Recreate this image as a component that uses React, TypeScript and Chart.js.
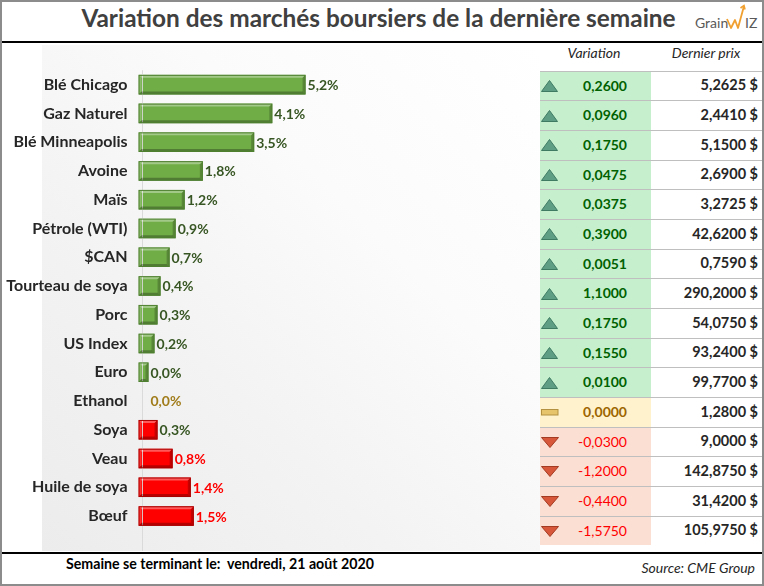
import React, { useEffect, useRef } from "react";
import { Chart, registerables } from "chart.js";

Chart.register(...registerables);

// ---------- data ----------
const categories = [
  "Blé Chicago",
  "Gaz Naturel",
  "Blé Minneapolis",
  "Avoine",
  "Maïs",
  "Pétrole (WTI)",
  "$CAN",
  "Tourteau de soya",
  "Porc",
  "US Index",
  "Euro",
  "Ethanol",
  "Soya",
  "Veau",
  "Huile de soya",
  "Bœuf",
];
const weeklyChangePct: (number | null)[] = [
  5.2, 4.1, 3.5, 1.8, 1.2, 0.9, 0.7, 0.4, 0.3, 0.2, 0.0, null, 0.3, 0.8, 1.4, 1.5,
];
const barTone = [
  "up", "up", "up", "up", "up", "up", "up", "up", "up", "up", "up",
  "flat", "down", "down", "down", "down",
];
const pctLabelTone = [
  "up", "up", "up", "up", "up", "up", "up", "up", "up", "up", "up",
  "flat", "up", "down", "down", "down",
];
const priceChange = [
  0.26, 0.096, 0.175, 0.0475, 0.0375, 0.39, 0.0051, 1.1, 0.175, 0.155, 0.01, 0,
  -0.03, -1.2, -0.44, -1.575,
];
const lastPrice = [
  5.2625, 2.441, 5.15, 2.69, 3.2725, 42.62, 0.759, 290.2, 54.075, 93.24, 99.77,
  1.28, 9.0, 142.875, 31.42, 105.975,
];
const titleText = "Variation des marchés boursiers de la dernière semaine";
const footerText = "Semaine se terminant le:  vendredi, 21 août 2020";
const sourceText = "Source: CME Group";
const colHeaders = ["Variation", "Dernier prix"];

// ---------- styles ----------
const FONT = "Lato, 'Open Sans', sans-serif";
const AXIS_MIN = -0.33;
const AXIS_MAX = 12.63;
const TABLE_TOP = 70.7;
const ROW_H = 29.67;

const barFill: Record<string, string> = { up: "#70AD47", down: "#FF0000", flat: "#C9A227" };
const barBorder: Record<string, string> = { up: "#4E7F30", down: "#A80000", flat: "#8C6D12" };
const labelColor: Record<string, string> = { up: "#375623", down: "#FF0000", flat: "#A07C1A" };
const cellBg: Record<string, string> = { up: "#C6EFCE", down: "#FBDFD3", flat: "#FFF2CC" };
const cellText: Record<string, string> = { up: "#006100", down: "#FF0000", flat: "#9C6500" };

const fmt4 = (v: number) => v.toFixed(4).replace(".", ",");
const fmtPct = (v: number | null) => (v ?? 0).toFixed(1).replace(".", ",") + "%";

const axisLinePlugin = {
  id: "axisLine",
  afterDatasetsDraw(chart: any) {
    const { ctx, chartArea } = chart;
    const x = Math.round(chartArea.left + 3) + 0.5;
    ctx.save();
    ctx.strokeStyle = "rgba(215,215,215,0.9)";
    ctx.lineWidth = 1;
    ctx.beginPath();
    ctx.moveTo(x, chartArea.top);
    ctx.lineTo(x, chart.height);
    ctx.stroke();
    ctx.restore();
  },
};

const bevelPlugin = {
  id: "bevel",
  afterDatasetsDraw(chart: any) {
    const ctx = chart.ctx;
    const meta = chart.getDatasetMeta(0);
    const poly = (pts: number[][], color: string) => {
      ctx.beginPath();
      ctx.moveTo(pts[0][0], pts[0][1]);
      for (let k = 1; k < pts.length; k++) ctx.lineTo(pts[k][0], pts[k][1]);
      ctx.closePath();
      ctx.fillStyle = color;
      ctx.fill();
    };
    ctx.save();
    meta.data.forEach((el: any, i: number) => {
      if (weeklyChangePct[i] === null) return;
      const { x, y, base, height } = el.getProps(["x", "y", "base", "height"], true);
      const l = Math.min(x, base);
      const r = Math.max(x, base);
      const t = y - height / 2;
      const b = y + height / 2;
      const bw = Math.min(3, (r - l) / 2, height / 2);
      poly([[l, t], [r, t], [r - bw, t + bw], [l + bw, t + bw]], "rgba(255,255,255,0.35)");
      poly([[l, t], [l + bw, t + bw], [l + bw, b - bw], [l, b]], "rgba(255,255,255,0.18)");
      poly([[l, b], [l + bw, b - bw], [r - bw, b - bw], [r, b]], "rgba(0,0,0,0.28)");
      poly([[r, t], [r, b], [r - bw, b - bw], [r - bw, t + bw]], "rgba(0,0,0,0.22)");
      ctx.strokeStyle = barBorder[barTone[i]];
      ctx.lineWidth = 1;
      ctx.strokeRect(l + 0.5, t + 0.5, r - l - 1, b - t - 1);
    });
    ctx.restore();
  },
};

const valueLabelPlugin = {
  id: "valueLabels",
  afterDatasetsDraw(chart: any) {
    const ctx = chart.ctx;
    const xs = chart.scales.x;
    const ys = chart.scales.y;
    ctx.save();
    ctx.font = `bold 14px ${FONT}`;
    ctx.textAlign = "left";
    ctx.textBaseline = "middle";
    categories.forEach((_, i) => {
      const v = weeklyChangePct[i];
      const x = xs.getPixelForValue(v ?? 0) + 2;
      const y = ys.getPixelForValue(i) + 1;
      ctx.fillStyle = labelColor[pctLabelTone[i]];
      ctx.fillText(fmtPct(v), x, y);
    });
    ctx.restore();
  },
};

function BarChart() {
  const ref = useRef<HTMLCanvasElement | null>(null);
  useEffect(() => {
    if (!ref.current) return;
    const chart = new Chart(ref.current, {
      type: "bar",
      data: {
        labels: categories,
        datasets: [
          {
            data: weeklyChangePct as any,
            base: AXIS_MIN,
            backgroundColor: (c: any) => barFill[barTone[c.dataIndex]],
            borderWidth: 0,
            barPercentage: 0.68,
            categoryPercentage: 1,
          } as any,
        ],
      },
      options: {
        indexAxis: "y",
        animation: false,
        responsive: false,
        maintainAspectRatio: false,
        layout: { padding: { top: 26.25, bottom: 8.75, right: 10, left: 0 } },
        plugins: { legend: { display: false }, tooltip: { enabled: false } },
        scales: {
          x: { display: false, min: AXIS_MIN, max: AXIS_MAX },
          y: {
            grid: { display: false, drawTicks: false },
            border: { display: false },
            ticks: {
              font: { family: FONT, weight: "bold", size: 16 },
              color: "#262626",
              padding: 11,
            },
            afterFit: (s: any) => {
              s.width = 138.5;
            },
          },
        },
      } as any,
      plugins: [axisLinePlugin, bevelPlugin, valueLabelPlugin],
    });
    return () => chart.destroy();
  }, []);
  return (
    <canvas
      ref={ref}
      width={540}
      height={507}
      style={{ position: "absolute", left: 0, top: 44, width: 540, height: 507 }}
    />
  );
}

const abs = (o: React.CSSProperties): React.CSSProperties => ({ position: "absolute", ...o });

function Icon({ tone }: { tone: string }) {
  if (tone === "up")
    return (
      <svg width={17} height={12}>
        <polygon points="8.5,0.5 16.5,11.5 0.5,11.5" fill="#5E9E84" stroke="#3F7B63" strokeWidth={1} />
      </svg>
    );
  if (tone === "down")
    return (
      <svg width={18} height={11}>
        <polygon points="0.5,0.5 17.5,0.5 9,10.5" fill="#D6573A" stroke="#A33B22" strokeWidth={1} />
      </svg>
    );
  return (
    <svg width={18} height={7}>
      <rect x={0.5} y={0.5} width={16.5} height={5.5} fill="#E6C46C" stroke="#B39140" strokeWidth={1} />
    </svg>
  );
}

export default function App() {
  const textTop = (baseline: number, size: number) => baseline - 0.887 * size;
  return (
    <div
      style={abs({
        left: 0,
        top: 0,
        width: 764,
        height: 586,
        background: "#fff",
        fontFamily: FONT,
        overflow: "hidden",
      })}
    >
      {/* plot background */}
      <div
        style={abs({
          left: 42,
          top: 45,
          width: 498,
          height: 506,
          background: "linear-gradient(45deg, #ececec 0%, #f3f3f3 35%, #fbfbfb 65%, #ffffff 100%)",
        })}
      />
      <BarChart />

      {/* title */}
      <div
        style={abs({
          left: 0,
          width: 757,
          top: textTop(28, 24.4),
          fontSize: 24.4,
          lineHeight: "24.4px",
          fontWeight: 700,
          color: "#404040",
          textAlign: "center",
          whiteSpace: "nowrap",
        })}
      >
        {titleText}
      </div>
      {/* logo */}
      <div style={abs({ left: 695, top: textTop(28, 14), fontSize: 14, lineHeight: "14px", color: "#595959" })}>Grain</div>
      <svg style={abs({ left: 726, top: 3, overflow: "visible" })} width={20} height={27}>
        <polyline
          points="1,16 5,25 9,17 12,25 18,3"
          fill="none"
          stroke="#F0A030"
          strokeWidth={1.8}
          strokeLinejoin="round"
        />
        <polyline points="14.5,5 18,2.5 19,6.5" fill="none" stroke="#F0A030" strokeWidth={1.6} />
      </svg>
      <div style={abs({ left: 745, top: textTop(28, 14), fontSize: 14, lineHeight: "14px", color: "#595959" })}>IZ</div>

      {/* separator lines */}
      <div style={abs({ left: 0, top: 41, width: 762, height: 2, background: "#000" })} />
      <div style={abs({ left: 0, top: 552, width: 762, height: 2, background: "#000" })} />

      {/* table headers */}
      <div
        style={abs({
          left: 544,
          width: 100,
          top: textTop(58, 14),
          fontSize: 14,
          lineHeight: "14px",
          fontStyle: "italic",
          color: "#262626",
          textAlign: "center",
        })}
      >
        {colHeaders[0]}
      </div>
      <div
        style={abs({
          left: 656,
          width: 100,
          top: textTop(58, 14),
          fontSize: 14,
          lineHeight: "14px",
          fontStyle: "italic",
          color: "#262626",
          textAlign: "center",
        })}
      >
        {colHeaders[1]}
      </div>

      {/* table rows */}
      {categories.map((_, i) => {
        const top = TABLE_TOP + i * ROW_H;
        const ch = priceChange[i];
        const tone = ch > 0 ? "up" : ch < 0 ? "down" : "flat";
        const center = top + ROW_H / 2;
        const iconH = tone === "up" ? 12 : tone === "down" ? 11 : 7;
        const baseline = top + 20.5;
        return (
          <React.Fragment key={i}>
            <div style={abs({ left: 540, top: Math.round(top), width: 111, height: Math.round(top + ROW_H) - Math.round(top), background: cellBg[tone] })} />
            <div style={abs({ left: 540, top: Math.round(top), width: 222, height: 1, background: "#bfbfbf" })} />
            <div style={abs({ left: 541, top: Math.round(center - iconH / 2 + 0.5), lineHeight: 0 })}>
              <Icon tone={tone} />
            </div>
            <div
              style={abs({
                right: 764 - 627,
                top: textTop(baseline, 14),
                fontSize: 14,
                lineHeight: "14px",
                fontWeight: tone === "down" ? 400 : 700,
                color: cellText[tone],
                whiteSpace: "nowrap",
              })}
            >
              {fmt4(ch)}
            </div>
            <div
              style={abs({
                right: 764 - 758,
                top: textTop(baseline, 14.5),
                fontSize: 14.5,
                lineHeight: "14.5px",
                fontWeight: 700,
                color: "#262626",
                whiteSpace: "nowrap",
              })}
            >
              {fmt4(lastPrice[i]) + " $"}
            </div>
          </React.Fragment>
        );
      })}

      {/* footer */}
      <div
        style={abs({
          left: 66,
          top: textTop(570, 14.2),
          fontSize: 14.2,
          lineHeight: "14.2px",
          fontWeight: 700,
          color: "#000",
          whiteSpace: "pre",
        })}
      >
        {footerText}
      </div>
      <div
        style={abs({
          right: 9,
          top: textTop(573, 14),
          fontSize: 14,
          lineHeight: "14px",
          fontStyle: "italic",
          color: "#262626",
          whiteSpace: "nowrap",
        })}
      >
        {sourceText}
      </div>

      {/* outer frame */}
      <div
        style={abs({
          left: 0,
          top: 0,
          width: 764,
          height: 586,
          boxSizing: "border-box",
          border: "2px solid #8c8c8c",
          pointerEvents: "none",
        })}
      />
    </div>
  );
}
